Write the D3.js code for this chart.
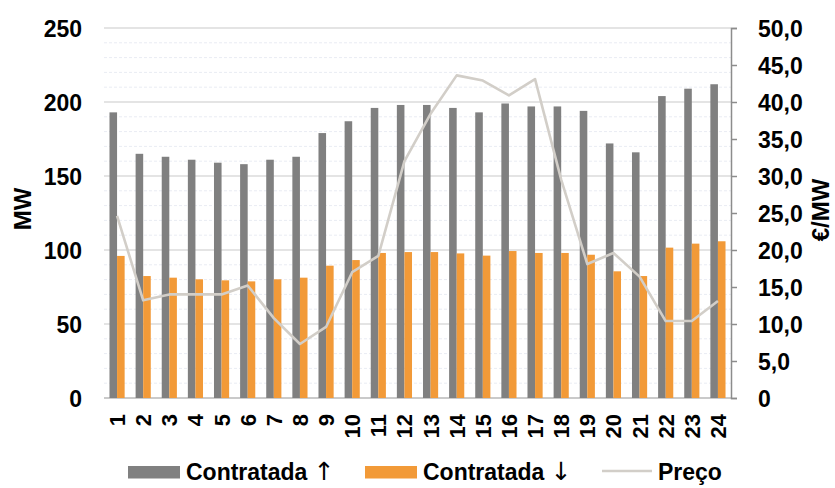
<!DOCTYPE html>
<html>
<head>
<meta charset="utf-8">
<script src="https://cdn.jsdelivr.net/npm/d3@7"></script>
<style>
  html, body { margin: 0; padding: 0; background: #ffffff; }
  svg { display: block; }
  text { font-family: "Liberation Sans", Arial, Helvetica, sans-serif; font-weight: bold; fill: #000; }
</style>
</head>
<body>
<svg id="chart" width="835" height="488"></svg>
<script>
// ---- Data ----
const hours = ["1","2","3","4","5","6","7","8","9","10","11","12","13","14","15","16","17","18","19","20","21","22","23","24"];
const contratadaUp = [193,165,163,161,159,158,161,163,179,187,196,198,198,196,193,199,197,197,194,172,166,204,209,212];
const contratadaDown = [96,82.4,81.3,80.2,79.5,78.8,80.2,81.3,89.4,93.2,98,98.6,98.6,97.7,96.2,99.3,98,98,96.8,85.6,82.4,101.6,104.3,105.9];
const preco = [24.6,13.2,14.0,14.0,14.0,15.2,10.8,7.3,9.6,17.0,19.2,32.0,38.4,43.6,42.9,40.9,43.1,29.5,18.1,19.6,16.4,10.4,10.4,13.1];
const leftTicks = [0,50,100,150,200,250];
const rightTicks = [0,5,10,15,20,25,30,35,40,45,50];
const seriesNames = ["Contratada ↑","Contratada ↓","Preço"];
const leftAxisTitle = "MW";
const rightAxisTitle = "€/MW";

// ---- Layout ----
const svg = d3.select("#chart");
const plot = { left: 104, right: 731, top: 28, bottom: 398 };
const colors = { up: "#808080", down: "#F29A38", line: "#D2CEC8", grid: "#CACACA", minor: "#E9ECF3", axis: "#8C8C8C" };

const x = d3.scaleBand().domain(hours).range([plot.left, plot.right]).paddingInner(0.42).paddingOuter(0.21);
const x1 = d3.scaleBand().domain(["up","down"]).range([0, x.bandwidth()]).padding(0);
const yL = d3.scaleLinear().domain([0,250]).range([plot.bottom, plot.top]);
const yR = d3.scaleLinear().domain([0,50]).range([plot.bottom, plot.top]);

// minor gridlines
const minorTicks = d3.range(10, 250, 10).filter(v => v % 50 !== 0);
svg.append("g").selectAll("line").data(minorTicks).join("line")
  .attr("x1", plot.left).attr("x2", plot.right)
  .attr("y1", d => yL(d)).attr("y2", d => yL(d))
  .attr("stroke", colors.minor).attr("stroke-width", 1).attr("stroke-dasharray", "3,2");

// major gridlines
svg.append("g").selectAll("line").data(leftTicks).join("line")
  .attr("x1", plot.left).attr("x2", plot.right)
  .attr("y1", d => yL(d)).attr("y2", d => yL(d))
  .attr("stroke", colors.grid).attr("stroke-width", d => d === 0 ? 2 : 1.2);

// bars
const barData = hours.map((h, i) => ({ h, up: contratadaUp[i], down: contratadaDown[i] }));
const groups = svg.append("g").selectAll("g").data(barData).join("g")
  .attr("transform", d => `translate(${x(d.h)},0)`);
groups.append("rect")
  .attr("x", x1("up")).attr("width", x1.bandwidth())
  .attr("y", d => yL(d.up)).attr("height", d => yL(0) - yL(d.up))
  .attr("fill", colors.up);
groups.append("rect")
  .attr("x", x1("down")).attr("width", x1.bandwidth())
  .attr("y", d => yL(d.down)).attr("height", d => yL(0) - yL(d.down))
  .attr("fill", colors.down);

// price line
const line = d3.line()
  .x((d, i) => x(hours[i]) + x.bandwidth() / 2)
  .y(d => yR(d));
svg.append("path").datum(preco)
  .attr("d", line)
  .attr("fill", "none").attr("stroke", colors.line).attr("stroke-width", 2.6)
  .attr("stroke-linejoin", "round");

// left axis labels
const leftAxis = d3.axisLeft(yL).tickValues(leftTicks).tickSize(0).tickPadding(0).tickFormat(d3.format("d"));
const gL = svg.append("g").attr("transform", "translate(82,0)").call(leftAxis);
gL.select(".domain").remove();
gL.selectAll("text").attr("font-size", 23).attr("font-family", '"Liberation Sans", Arial, sans-serif').attr("font-weight", "bold").attr("fill", "#000").attr("dy", "0.35em");

// right axis
const fmtR = d => d === 0 ? "0" : d3.format(".1f")(d).replace(".", ",");
const rightAxis = d3.axisRight(yR).tickValues(rightTicks).tickSize(6).tickPadding(21).tickFormat(fmtR);
const gR = svg.append("g").attr("transform", `translate(${plot.right},0)`).call(rightAxis);
gR.select(".domain").attr("stroke", colors.axis).attr("stroke-width", 1.5);
gR.selectAll(".tick line").attr("stroke", colors.axis).attr("stroke-width", 1.5);
gR.selectAll("text").attr("font-size", 23).attr("font-family", '"Liberation Sans", Arial, sans-serif').attr("font-weight", "bold").attr("fill", "#000").attr("dy", "0.35em");

// x axis labels (rotated)
const xAxis = d3.axisBottom(x).tickSize(0).tickPadding(0);
const gX = svg.append("g").attr("transform", `translate(0,${plot.bottom})`).call(xAxis);
gX.select(".domain").remove();
gX.selectAll("text")
  .attr("font-size", 22).attr("font-family", '"Liberation Sans", Arial, sans-serif').attr("font-weight", "bold").attr("fill", "#000")
  .attr("text-anchor", "end")
  .attr("dy", null).attr("y", 0)
  .attr("transform", "translate(8,16) rotate(-90)");

// axis titles
svg.append("text").text(leftAxisTitle)
  .attr("font-size", 24).attr("text-anchor", "middle")
  .attr("transform", "translate(31,209) rotate(-90)");
svg.append("text").text(rightAxisTitle)
  .attr("font-size", 24).attr("text-anchor", "middle")
  .attr("transform", "translate(829,210) rotate(-90)");

// legend
const legend = svg.append("g");
const lgY = 472;
function legendLabel(name, xPos) {
  const t = legend.append("text").attr("x", xPos).attr("y", lgY + 8).attr("font-size", 23);
  const m = name.match(/^(.*?)([↑↓])$/);
  if (m) {
    t.append("tspan").text(m[1]);
    t.append("tspan").text(m[2]).attr("font-family", '"DejaVu Sans", sans-serif').attr("font-weight", "normal").attr("font-size", 25);
  } else {
    t.text(name);
  }
}
legend.append("rect").attr("x", 128).attr("y", lgY - 6).attr("width", 52).attr("height", 12.5).attr("fill", colors.up);
legendLabel(seriesNames[0], 186);
legend.append("rect").attr("x", 365).attr("y", lgY - 6).attr("width", 52).attr("height", 12.5).attr("fill", colors.down);
legendLabel(seriesNames[1], 423);
legend.append("line").attr("x1", 602).attr("x2", 652).attr("y1", lgY - 1).attr("y2", lgY - 1).attr("stroke", colors.line).attr("stroke-width", 2.6);
legendLabel(seriesNames[2], 658);
</script>
</body>
</html>
